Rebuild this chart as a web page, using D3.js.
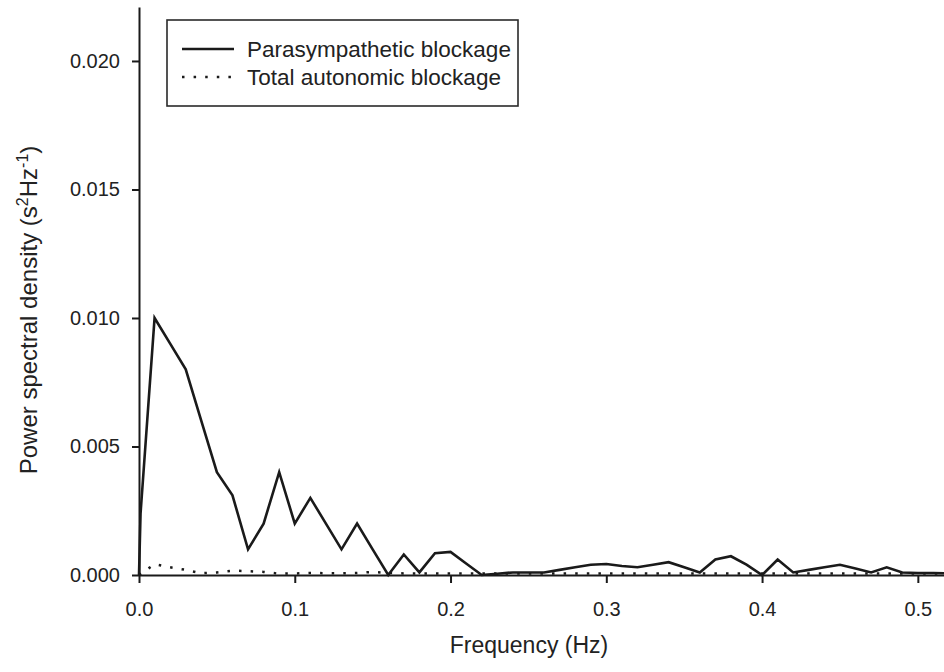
<!DOCTYPE html>
<html>
<head>
<meta charset="utf-8">
<script src="https://cdn.jsdelivr.net/npm/d3@7.9.0/dist/d3.min.js"></script>
<style>
  html, body { margin: 0; padding: 0; background: #fff; }
  svg { display: block; font-family: "Liberation Sans", Arial, sans-serif; }
  .axis path, .axis line { stroke: #1a1a1a; stroke-width: 2; }
  .axis text { fill: #222; font-size: 20px; }
</style>
</head>
<body>
<svg id="chart" width="944" height="672"></svg>
<script>
// Frequency grid (Hz) and power spectral density values (s^2 Hz^-1)
const paraFreq = [0, 0.001, 0.01, 0.02, 0.03, 0.04, 0.05, 0.06, 0.07, 0.08, 0.09,
  0.10, 0.11, 0.12, 0.13, 0.14, 0.15, 0.16, 0.17, 0.18, 0.19,
  0.20, 0.21, 0.22, 0.23, 0.24, 0.25, 0.26, 0.27, 0.28, 0.29,
  0.30, 0.31, 0.32, 0.33, 0.34, 0.35, 0.36, 0.37, 0.38, 0.39,
  0.40, 0.41, 0.42, 0.43, 0.44, 0.45, 0.46, 0.47, 0.48, 0.49,
  0.50, 0.51, 0.52];
const paraValues = [0, 0.0024, 0.0100, 0.0090, 0.0080, 0.0060, 0.0040, 0.0031, 0.0010, 0.0020, 0.0040,
  0.0020, 0.0030, 0.0020, 0.0010, 0.0020, 0.0010, 0.0000, 0.0008, 0.0001, 0.00085,
  0.0009, 0.00045, 0.0000, 0.00005, 0.0001, 0.0001, 0.0001, 0.0002, 0.0003, 0.0004,
  0.00043, 0.00035, 0.0003, 0.0004, 0.0005, 0.0003, 0.0001, 0.0006, 0.00073, 0.0004,
  0.0000, 0.0006, 0.0001, 0.0002, 0.0003, 0.0004, 0.00025, 0.0001, 0.0003, 0.0001,
  0.00008, 0.00008, 0.00006];

const totalFreq = [0, 0.01, 0.02, 0.03, 0.04, 0.05, 0.06, 0.07, 0.08, 0.09,
  0.10, 0.11, 0.12, 0.13, 0.14, 0.15, 0.16, 0.17, 0.18, 0.19,
  0.20, 0.21, 0.22, 0.23, 0.24, 0.25, 0.26, 0.27, 0.28, 0.29,
  0.30, 0.31, 0.32, 0.33, 0.34, 0.35, 0.36, 0.37, 0.38, 0.39,
  0.40, 0.41, 0.42, 0.43, 0.44, 0.45, 0.46, 0.47, 0.48, 0.49,
  0.50, 0.51, 0.52];
const totalValues = [0, 0.00042, 0.0003, 0.0002, 0.00007, 0.0001, 0.00017, 0.00015, 0.00012, 0.00005,
  0.00006, 0.00008, 0.00007, 0.00007, 0.00008, 0.00012, 0.00008, 0.00006, 0.00006, 0.00006,
  0.00006, 0.00006, 0.00006, 0.00006, 0.00006, 0.00006, 0.00006, 0.00006, 0.00006, 0.00006,
  0.00006, 0.00006, 0.00006, 0.00006, 0.00006, 0.00006, 0.00006, 0.00006, 0.00006, 0.00006,
  0.00006, 0.00006, 0.00006, 0.00006, 0.00006, 0.00006, 0.00006, 0.00006, 0.00006, 0.00006,
  0.00006, 0.00006, 0.00006];

const xTicks = [0, 0.1, 0.2, 0.3, 0.4, 0.5];
const yTicks = [0, 0.005, 0.010, 0.015, 0.020];
const seriesNames = ["Parasympathetic blockage", "Total autonomic blockage"];

const svg = d3.select("#chart");

const x = d3.scaleLinear().domain([0, 0.52]).range([139, 949]);
const y = d3.scaleLinear().domain([0, 0.0221]).range([575, 7]);

// axes
svg.append("g")
  .attr("class", "axis")
  .attr("transform", "translate(0,575)")
  .call(d3.axisBottom(x).tickValues(xTicks).tickFormat(d3.format(".1f"))
    .tickSize(8).tickSizeOuter(0).tickPadding(19));

svg.append("g")
  .attr("class", "axis")
  .attr("transform", "translate(139,0)")
  .call(d3.axisLeft(y).tickValues(yTicks).tickFormat(d3.format(".3f"))
    .tickSize(7).tickSizeOuter(0).tickPadding(12));

// lines
const paraData = paraFreq.map((f, i) => [f, paraValues[i]]);
const totalData = totalFreq.map((f, i) => [f, totalValues[i]]);
const line = d3.line().x(d => x(d[0])).y(d => y(d[1]));

svg.append("path")
  .attr("d", line(totalData))
  .attr("fill", "none")
  .attr("stroke", "#1a1a1a")
  .attr("stroke-width", 2.5)
  .attr("stroke-dasharray", "2.5,9.1");

svg.append("path")
  .attr("d", line(paraData))
  .attr("fill", "none")
  .attr("stroke", "#1a1a1a")
  .attr("stroke-width", 2.6)
  .attr("stroke-linejoin", "miter");

// axis titles
svg.append("text")
  .attr("x", 529)
  .attr("y", 653)
  .attr("text-anchor", "middle")
  .attr("font-size", 23)
  .attr("fill", "#222")
  .text("Frequency (Hz)");

const yTitle = svg.append("text")
  .attr("transform", "translate(37,310) rotate(-90)")
  .attr("text-anchor", "middle")
  .attr("font-size", 24)
  .attr("fill", "#222");
yTitle.append("tspan").text("Power spectral density (s");
yTitle.append("tspan").attr("font-size", 16).attr("dy", -9).text("2");
yTitle.append("tspan").attr("dy", 9).text("Hz");
yTitle.append("tspan").attr("font-size", 16).attr("dy", -9).text("-1");
yTitle.append("tspan").attr("dy", 9).text(")");

// legend
const legend = svg.append("g");
legend.append("rect")
  .attr("x", 167).attr("y", 20)
  .attr("width", 351).attr("height", 86)
  .attr("fill", "#fff")
  .attr("stroke", "#2a2a2a")
  .attr("stroke-width", 1.6);

legend.append("line")
  .attr("x1", 182).attr("x2", 234).attr("y1", 49).attr("y2", 49)
  .attr("stroke", "#1a1a1a").attr("stroke-width", 2.6);
legend.append("line")
  .attr("x1", 182).attr("x2", 234).attr("y1", 77).attr("y2", 77)
  .attr("stroke", "#1a1a1a").attr("stroke-width", 2.5)
  .attr("stroke-dasharray", "2.5,9.1");

legend.selectAll("text.lg")
  .data(seriesNames)
  .join("text")
  .attr("class", "lg")
  .attr("x", 247)
  .attr("y", (d, i) => 57 + i * 28)
  .attr("font-size", 22.5)
  .attr("fill", "#222")
  .text(d => d);
</script>
</body>
</html>
